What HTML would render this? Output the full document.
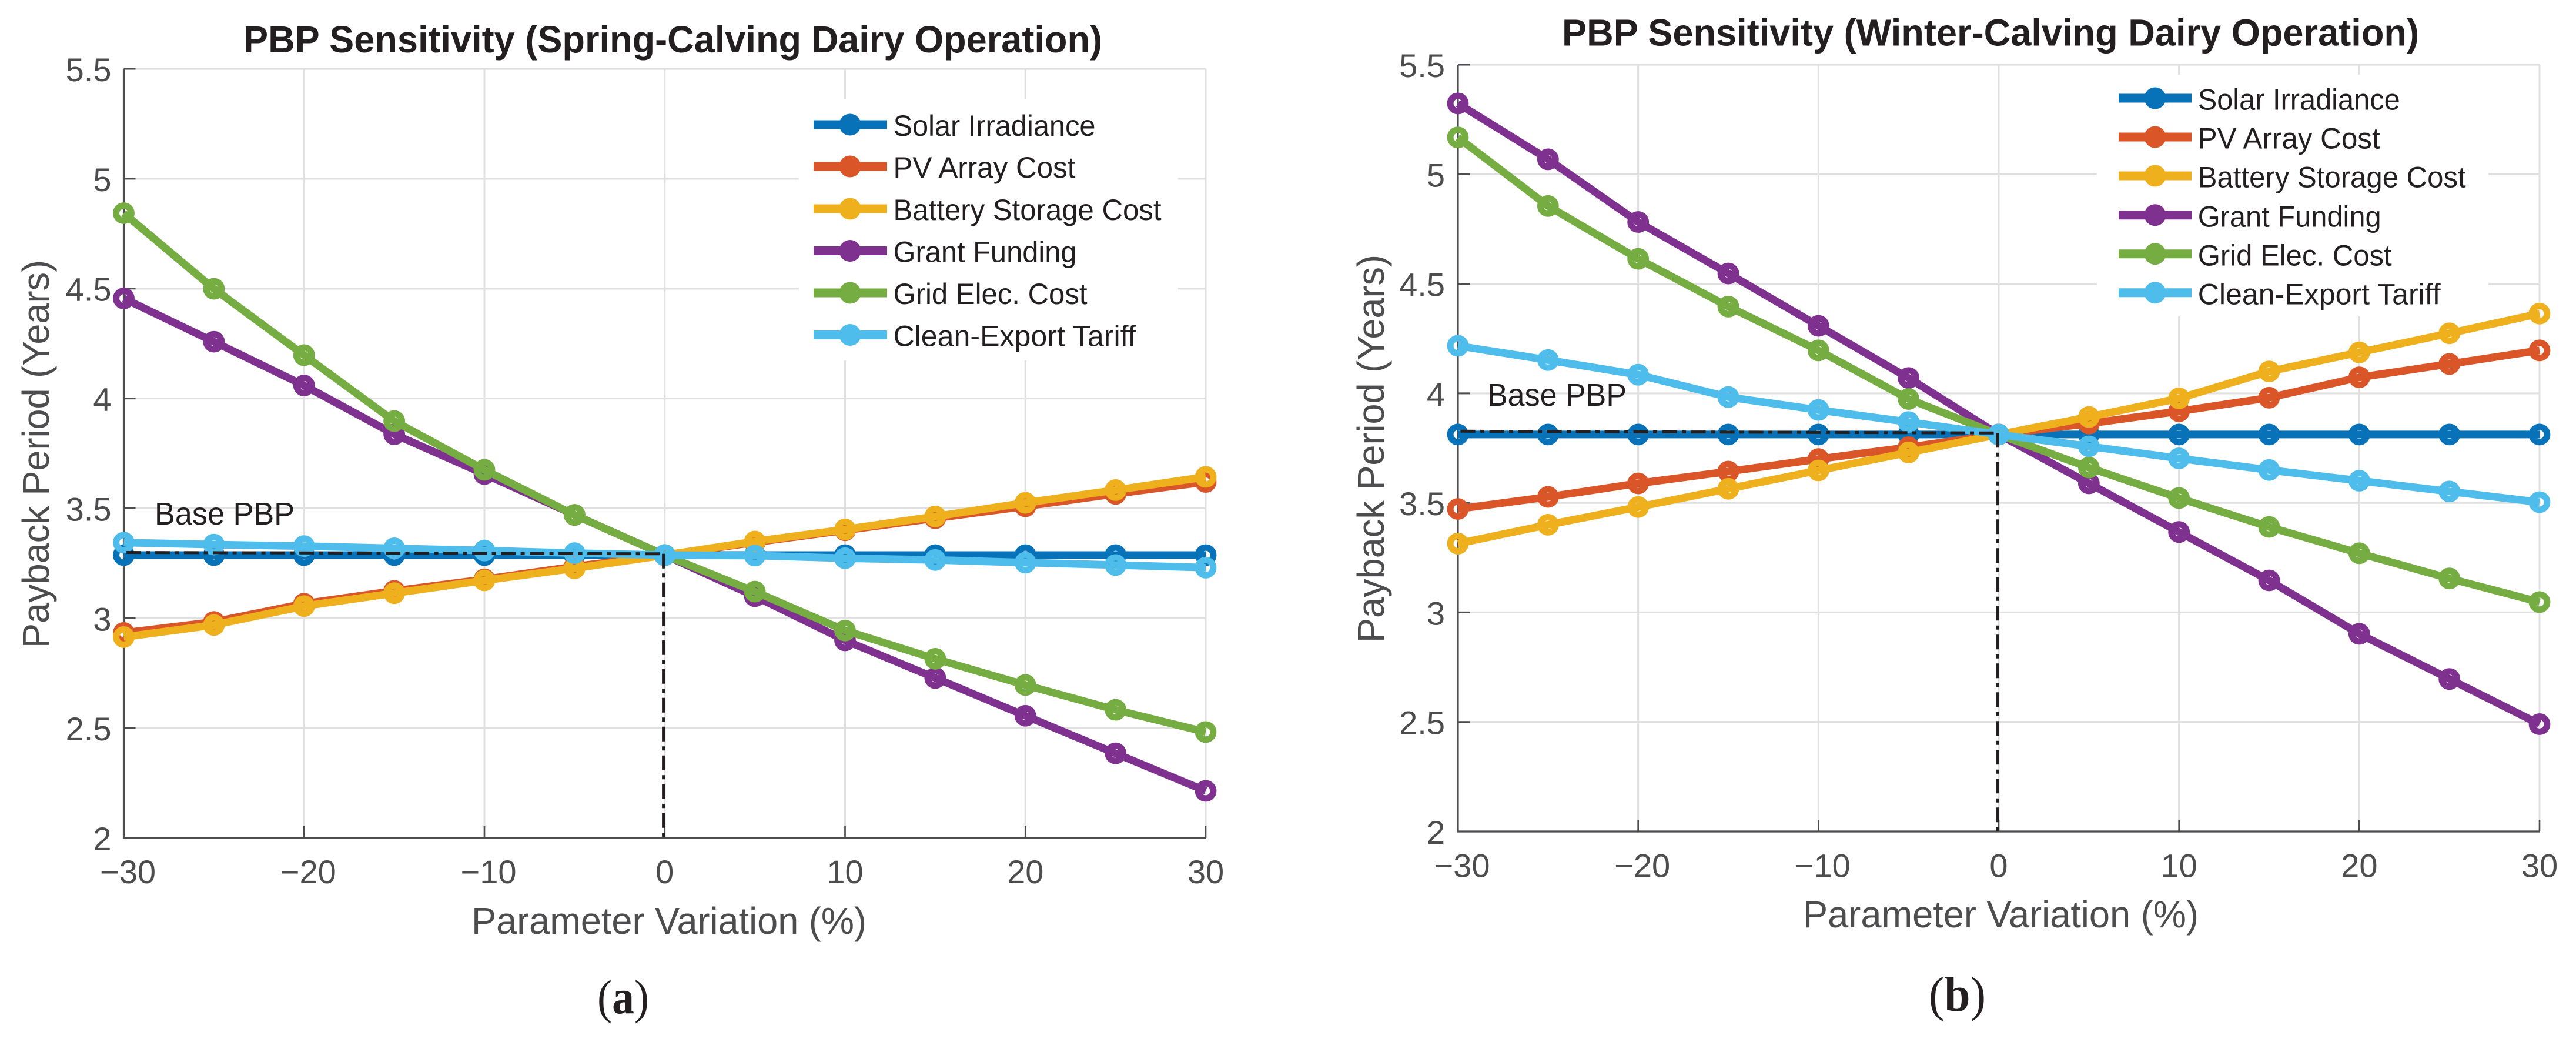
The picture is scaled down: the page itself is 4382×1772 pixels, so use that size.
<!DOCTYPE html>
<html lang="en">
<head>
<meta charset="utf-8">
<title>PBP Sensitivity</title>
<style>
html,body{margin:0;padding:0;background:#fff;width:4382px;height:1772px;overflow:hidden}
svg{display:block}
text{font-family:"Liberation Sans",Arial,sans-serif}
.title{font-size:64px;font-weight:700;fill:#231f20}
.axis-label{font-size:64px;fill:#4d4d4f}
.tick{font-size:56px;fill:#4d4d4f}
.leg{font-size:50px;fill:#231f20}
.base{font-size:54px;fill:#231f20}
.cap{font-family:"Liberation Serif",serif;fill:#231f20}
</style>
</head>
<body>
<svg id="figure" xmlns="http://www.w3.org/2000/svg" width="4382" height="1772" viewBox="0 0 4382 1772">
  <rect x="0" y="0" width="4382" height="1772" fill="#fff"/>

  <g id="panel-a">
    <g id="plot-a"></g>
    <text class="title" x="414" y="89" textLength="1461" lengthAdjust="spacingAndGlyphs">PBP Sensitivity (Spring-Calving Dairy Operation)</text>
    <text class="axis-label" x="802" y="1588" textLength="672" lengthAdjust="spacingAndGlyphs">Parameter Variation (%)</text>
    <text class="axis-label" transform="translate(83 1102) rotate(-90)" x="0" y="0" textLength="660" lengthAdjust="spacingAndGlyphs">Payback Period (Years)</text>
    <text class="base" x="263" y="892" textLength="238" lengthAdjust="spacingAndGlyphs">Base PBP</text>
    <g>
      <rect x="1359" y="168" width="645" height="445" fill="#fff"/>
      <g><line x1="1384" x2="1509" y1="212" y2="212" stroke="#0772b8" stroke-width="15"/><circle cx="1446" cy="212" r="18.5" fill="#0772b8"/><text class="leg" x="1519.5" y="231" textLength="344" lengthAdjust="spacingAndGlyphs">Solar Irradiance</text></g>
      <g><line x1="1384" x2="1509" y1="283" y2="283" stroke="#da5628" stroke-width="15"/><circle cx="1446" cy="283" r="18.5" fill="#da5628"/><text class="leg" x="1519.5" y="302" textLength="310" lengthAdjust="spacingAndGlyphs">PV Array Cost</text></g>
      <g><line x1="1384" x2="1509" y1="355" y2="355" stroke="#eeb01d" stroke-width="15"/><circle cx="1446" cy="355" r="18.5" fill="#eeb01d"/><text class="leg" x="1519.5" y="374" textLength="456" lengthAdjust="spacingAndGlyphs">Battery Storage Cost</text></g>
      <g><line x1="1384" x2="1509" y1="426.5" y2="426.5" stroke="#7e318e" stroke-width="15"/><circle cx="1446" cy="426.5" r="18.5" fill="#7e318e"/><text class="leg" x="1519.5" y="445.5" textLength="312" lengthAdjust="spacingAndGlyphs">Grant Funding</text></g>
      <g><line x1="1384" x2="1509" y1="498" y2="498" stroke="#75ad42" stroke-width="15"/><circle cx="1446" cy="498" r="18.5" fill="#75ad42"/><text class="leg" x="1519.5" y="517" textLength="330" lengthAdjust="spacingAndGlyphs">Grid Elec. Cost</text></g>
      <g><line x1="1384" x2="1509" y1="569.5" y2="569.5" stroke="#4fbdec" stroke-width="15"/><circle cx="1446" cy="569.5" r="18.5" fill="#4fbdec"/><text class="leg" x="1519.5" y="588.5" textLength="413" lengthAdjust="spacingAndGlyphs">Clean-Export Tariff</text></g>
    </g>
    <text class="cap" x="1016" y="1723" font-size="82" textLength="88" lengthAdjust="spacingAndGlyphs">(<tspan font-weight="700">a</tspan>)</text>
  </g>

  <g id="panel-b">
    <g id="plot-b"></g>
    <text class="title" x="2657" y="77.5" textLength="1458" lengthAdjust="spacingAndGlyphs">PBP Sensitivity (Winter-Calving Dairy Operation)</text>
    <text class="axis-label" x="3067" y="1577" textLength="673" lengthAdjust="spacingAndGlyphs">Parameter Variation (%)</text>
    <text class="axis-label" transform="translate(2354 1093) rotate(-90)" x="0" y="0" textLength="660" lengthAdjust="spacingAndGlyphs">Payback Period (Years)</text>
    <text class="base" x="2530" y="690" textLength="237" lengthAdjust="spacingAndGlyphs">Base PBP</text>
    <g>
      <rect x="3567" y="127" width="666" height="411" fill="#fff"/>
      <g><line x1="3604" x2="3728" y1="167" y2="167" stroke="#0772b8" stroke-width="15"/><circle cx="3666" cy="167" r="18.5" fill="#0772b8"/><text class="leg" x="3738.7" y="186.6" textLength="344" lengthAdjust="spacingAndGlyphs">Solar Irradiance</text></g>
      <g><line x1="3604" x2="3728" y1="233" y2="233" stroke="#da5628" stroke-width="15"/><circle cx="3666" cy="233" r="18.5" fill="#da5628"/><text class="leg" x="3738.7" y="252.6" textLength="310" lengthAdjust="spacingAndGlyphs">PV Array Cost</text></g>
      <g><line x1="3604" x2="3728" y1="299" y2="299" stroke="#eeb01d" stroke-width="15"/><circle cx="3666" cy="299" r="18.5" fill="#eeb01d"/><text class="leg" x="3738.7" y="318.6" textLength="456" lengthAdjust="spacingAndGlyphs">Battery Storage Cost</text></g>
      <g><line x1="3604" x2="3728" y1="365.7" y2="365.7" stroke="#7e318e" stroke-width="15"/><circle cx="3666" cy="365.7" r="18.5" fill="#7e318e"/><text class="leg" x="3738.7" y="385.3" textLength="312" lengthAdjust="spacingAndGlyphs">Grant Funding</text></g>
      <g><line x1="3604" x2="3728" y1="431.7" y2="431.7" stroke="#75ad42" stroke-width="15"/><circle cx="3666" cy="431.7" r="18.5" fill="#75ad42"/><text class="leg" x="3738.7" y="451.3" textLength="330" lengthAdjust="spacingAndGlyphs">Grid Elec. Cost</text></g>
      <g><line x1="3604" x2="3728" y1="497.7" y2="497.7" stroke="#4fbdec" stroke-width="15"/><circle cx="3666" cy="497.7" r="18.5" fill="#4fbdec"/><text class="leg" x="3738.7" y="517.3" textLength="413" lengthAdjust="spacingAndGlyphs">Clean-Export Tariff</text></g>
    </g>
    <text class="cap" x="3281" y="1719" font-size="84" textLength="97" lengthAdjust="spacingAndGlyphs">(<tspan font-weight="700">b</tspan>)</text>
  </g>
</svg>

<script>
const variation = [-30, -25, -20, -15, -10, -5, 0, 5, 10, 15, 20, 25, 30];
const xTicks = [-30, -20, -10, 0, 10, 20, 30];
const xTickLabels = ['\u221230', '\u221220', '\u221210', '0', '10', '20', '30'];
const yTicks = [2, 2.5, 3, 3.5, 4, 4.5, 5, 5.5];
const yTickLabels = ['2', '2.5', '3', '3.5', '4', '4.5', '5', '5.5'];

const springSolar = [3.287, 3.287, 3.287, 3.287, 3.287, 3.287, 3.287, 3.287, 3.287, 3.287, 3.287, 3.287, 3.287];
const springPv = [2.933, 2.983, 3.066, 3.124, 3.177, 3.235, 3.287, 3.345, 3.4, 3.455, 3.509, 3.566, 3.62];
const springBattery = [2.914, 2.969, 3.055, 3.114, 3.172, 3.227, 3.287, 3.349, 3.404, 3.463, 3.525, 3.583, 3.643];
const springGrant = [4.455, 4.258, 4.059, 3.837, 3.656, 3.47, 3.287, 3.1, 2.899, 2.728, 2.556, 2.385, 2.214];
const springGrid = [4.843, 4.499, 4.197, 3.897, 3.675, 3.47, 3.287, 3.121, 2.944, 2.815, 2.696, 2.583, 2.482];
const springExport = [3.344, 3.335, 3.328, 3.318, 3.308, 3.296, 3.287, 3.285, 3.273, 3.265, 3.253, 3.242, 3.23];
const springBaseY = [3.299, 3.293];

const winterSolar = [3.812, 3.812, 3.812, 3.812, 3.812, 3.812, 3.812, 3.812, 3.812, 3.812, 3.812, 3.812, 3.812];
const winterPv = [3.472, 3.527, 3.589, 3.643, 3.7, 3.754, 3.812, 3.862, 3.918, 3.98, 4.073, 4.134, 4.196];
const winterBattery = [3.314, 3.4, 3.481, 3.564, 3.648, 3.73, 3.812, 3.892, 3.977, 4.1, 4.187, 4.274, 4.364];
const winterGrant = [5.323, 5.068, 4.782, 4.547, 4.308, 4.07, 3.812, 3.589, 3.367, 3.146, 2.902, 2.696, 2.49];
const winterGrid = [5.168, 4.855, 4.614, 4.396, 4.196, 3.974, 3.812, 3.661, 3.522, 3.39, 3.27, 3.155, 3.047];
const winterExport = [4.217, 4.152, 4.085, 3.983, 3.924, 3.869, 3.812, 3.758, 3.703, 3.65, 3.601, 3.552, 3.503];
const winterBaseY = [3.827, 3.819];

const baseX = [-29.85, -0.07];

const seriesKeys = ['solar-irradiance', 'pv-array-cost', 'battery-storage-cost', 'grant-funding', 'grid-elec-cost', 'clean-export-tariff'];
const seriesColors = ['#0772b8', '#da5628', '#eeb01d', '#7e318e', '#75ad42', '#4fbdec'];

const NS = 'http://www.w3.org/2000/svg';

function drawPanel(host, prefix, box, seriesList, baseY, labelY, labelRight) {
  const sx = v => box.left + (v - (-30)) / 60 * (box.right - box.left);
  const sy = v => box.bottom - (v - 2) / 3.5 * (box.bottom - box.top);

  xTicks.forEach(t => {
    const g = document.createElementNS(NS, 'line');
    
    
    g.setAttribute('x1', sx(t));
    g.setAttribute('x2', sx(t));
    g.setAttribute('y1', box.top);
    g.setAttribute('y2', box.bottom);
    g.setAttribute('stroke', '#e0e0e1');
    g.setAttribute('stroke-width', '3');
    host.appendChild(g);
  });
  yTicks.forEach(t => {
    const g = document.createElementNS(NS, 'line');
    
    
    g.setAttribute('x1', box.left);
    g.setAttribute('x2', box.right);
    g.setAttribute('y1', sy(t));
    g.setAttribute('y2', sy(t));
    g.setAttribute('stroke', '#e0e0e1');
    g.setAttribute('stroke-width', '3.2');
    host.appendChild(g);
  });

  const axisPath = document.createElementNS(NS, 'path');
  
  
  axisPath.setAttribute('d', 'M' + box.left + ' ' + box.top + 'V' + box.bottom + 'H' + box.right);
  axisPath.setAttribute('fill', 'none');
  axisPath.setAttribute('stroke', '#4d4d4f');
  axisPath.setAttribute('stroke-width', '3.2');
  host.appendChild(axisPath);

  xTicks.forEach((t, i) => {
    const tick = document.createElementNS(NS, 'line');
    
    
    tick.setAttribute('x1', sx(t));
    tick.setAttribute('x2', sx(t));
    tick.setAttribute('y1', box.bottom);
    tick.setAttribute('y2', box.bottom - 20);
    tick.setAttribute('stroke', '#4d4d4f');
    tick.setAttribute('stroke-width', '2.6');
    host.appendChild(tick);

    const label = document.createElementNS(NS, 'text');
    
    
    label.setAttribute('class', 'tick');
    label.setAttribute('text-anchor', 'middle');
    label.setAttribute('x', sx(t) + (t < 0 ? 7 : 0));
    label.setAttribute('y', labelY);
    label.textContent = xTickLabels[i];
    host.appendChild(label);
  });

  yTicks.forEach((t, i) => {
    const tick = document.createElementNS(NS, 'line');
    
    
    tick.setAttribute('x1', box.left);
    tick.setAttribute('x2', box.left + 20);
    tick.setAttribute('y1', sy(t));
    tick.setAttribute('y2', sy(t));
    tick.setAttribute('stroke', '#4d4d4f');
    tick.setAttribute('stroke-width', '3');
    host.appendChild(tick);

    const label = document.createElementNS(NS, 'text');
    
    
    label.setAttribute('class', 'tick');
    label.setAttribute('text-anchor', 'end');
    label.setAttribute('x', labelRight);
    label.setAttribute('y', sy(t) + 21);
    label.textContent = yTickLabels[i];
    host.appendChild(label);
  });

  seriesList.forEach((values, si) => {
    const group = document.createElementNS(NS, 'g');
    
    

    const line = document.createElementNS(NS, 'polyline');
    
    
    line.setAttribute('points', values.map((v, i) => sx(variation[i]) + ',' + sy(v)).join(' '));
    line.setAttribute('fill', 'none');
    line.setAttribute('stroke', seriesColors[si]);
    line.setAttribute('stroke-width', '13');
    line.setAttribute('stroke-linejoin', 'round');
    group.appendChild(line);

    values.forEach((v, i) => {
      const dot = document.createElementNS(NS, 'circle');
      
      
      dot.setAttribute('cx', sx(variation[i]));
      dot.setAttribute('cy', sy(v));
      dot.setAttribute('r', '12.9');
      dot.setAttribute('fill', 'none');
      dot.setAttribute('stroke', seriesColors[si]);
      dot.setAttribute('stroke-width', '11');
      group.appendChild(dot);
    });
    host.appendChild(group);
  });

  const baseH = document.createElementNS(NS, 'line');
  
  
  baseH.setAttribute('x1', sx(baseX[0]));
  baseH.setAttribute('x2', sx(baseX[1]));
  baseH.setAttribute('y1', sy(baseY[0]));
  baseH.setAttribute('y2', sy(baseY[1]));
  baseH.setAttribute('stroke', '#231f20');
  baseH.setAttribute('stroke-width', '5');
  baseH.setAttribute('stroke-dasharray', '25 8.5 7 8.5');
  host.appendChild(baseH);

  const baseV = document.createElementNS(NS, 'line');
  
  
  baseV.setAttribute('x1', sx(baseX[1]));
  baseV.setAttribute('x2', sx(baseX[1]));
  baseV.setAttribute('y1', sy(baseY[1]));
  baseV.setAttribute('y2', box.bottom);
  baseV.setAttribute('stroke', '#231f20');
  baseV.setAttribute('stroke-width', '5');
  baseV.setAttribute('stroke-dasharray', '25 8.5 7 8.5');
  host.appendChild(baseV);
}

drawPanel(
  document.getElementById('plot-a'), 'spring',
  {left: 210.5, right: 2051, top: 117, bottom: 1425},
  [springSolar, springPv, springBattery, springGrant, springGrid, springExport],
  springBaseY, 1502, 189.5
);
drawPanel(
  document.getElementById('plot-b'), 'winter',
  {left: 2480, right: 4320, top: 110, bottom: 1414},
  [winterSolar, winterPv, winterBattery, winterGrant, winterGrid, winterExport],
  winterBaseY, 1491.5, 2458
);
</script>
</body>
</html>
